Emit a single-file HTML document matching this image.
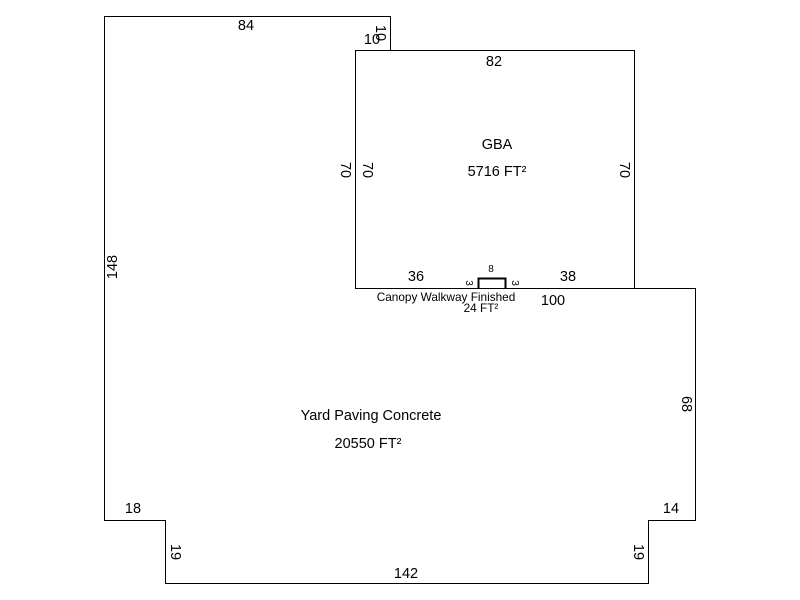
<!DOCTYPE html>
<html><head><meta charset="utf-8"><style>html,body{margin:0;padding:0;background:#fff}svg{display:block}text{font-family:"Liberation Sans",Arial,sans-serif;fill:#000}</style></head>
<body>
<svg width="800" height="600" viewBox="0 0 800 600" xmlns="http://www.w3.org/2000/svg">
<g fill="none" stroke="#000" stroke-width="1" shape-rendering="crispEdges">
<polyline points="355.5,50.5 390.5,50.5 390.5,16.5 104.5,16.5 104.5,520.5 165.5,520.5 165.5,583.5 648.5,583.5 648.5,520.5 695.5,520.5 695.5,288.5 355.5,288.5"/>
<rect x="355.5" y="50.5" width="279" height="238"/>
<polyline points="478.5,288.5 478.5,278.5 505.5,278.5 505.5,288.5" stroke-width="2"/>
</g>
<g font-size="14.5" text-anchor="middle">
<text x="246" y="30">84</text>
<text x="372" y="44">10</text>
<text transform="translate(376,33) rotate(90)">10</text>
<text x="494" y="66">82</text>
<text x="497" y="149">GBA</text>
<text x="497" y="176">5716 FT²</text>
<text transform="translate(341,170) rotate(90)">70</text>
<text transform="translate(363,170) rotate(90)">70</text>
<text transform="translate(620,170) rotate(90)">70</text>
<text transform="translate(117,267) rotate(-90)">148</text>
<text x="416" y="281">36</text>
<text x="568" y="281">38</text>
<text x="553" y="305">100</text>
<text transform="translate(682,404) rotate(90)">68</text>
<text x="371" y="420">Yard Paving Concrete</text>
<text x="368" y="448">20550 FT²</text>
<text x="133" y="513">18</text>
<text x="671" y="513">14</text>
<text transform="translate(171,552) rotate(90)">19</text>
<text transform="translate(634,552) rotate(90)">19</text>
<text x="406" y="578">142</text>
</g>
<g font-size="11.8" text-anchor="middle">
<text x="491" y="272" font-size="10">8</text>
<text transform="translate(466,283) rotate(90)" font-size="10">3</text>
<text transform="translate(512,283) rotate(90)" font-size="10">3</text>
<text x="446" y="301">Canopy Walkway Finished</text>
<text x="481" y="312">24 FT²</text>
</g>
</svg>
</body></html>
